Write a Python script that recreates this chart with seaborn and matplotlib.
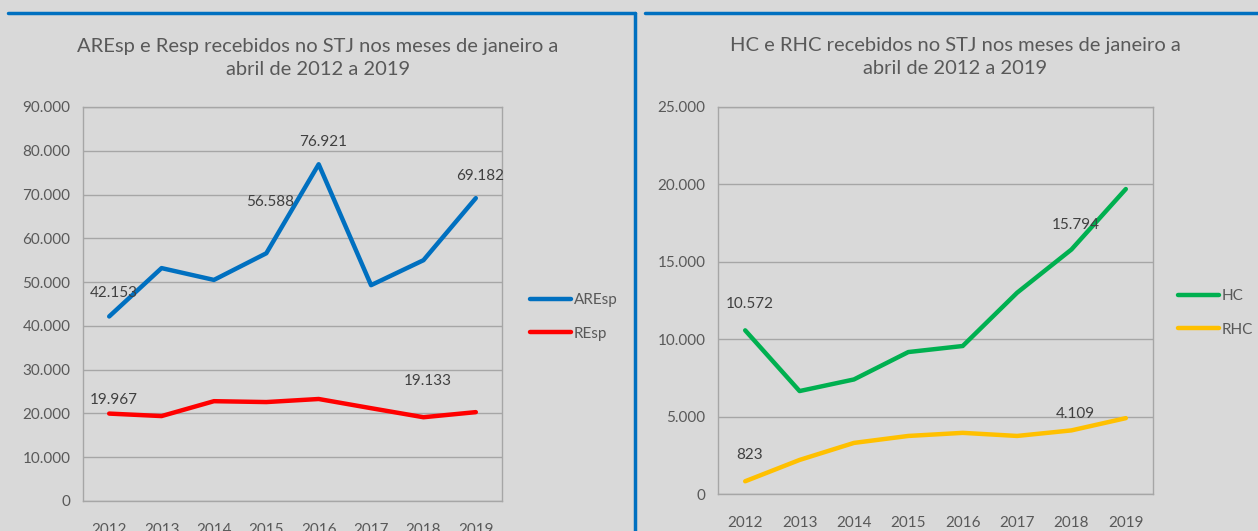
import numpy as np
import pandas as pd
import matplotlib as mpl
import matplotlib.pyplot as plt
import seaborn as sns
from matplotlib.lines import Line2D
from matplotlib.ticker import FuncFormatter

# Dados
anos = ['2012', '2013', '2014', '2015', '2016', '2017', '2018', '2019']
aresp = [42153, 53200, 50500, 56588, 76921, 49300, 55000, 69182]
resp = [19967, 19400, 22800, 22600, 23300, 21200, 19133, 20300]
hc = [10572, 6650, 7400, 9170, 9560, 13000, 15794, 19700]
rhc = [823, 2200, 3300, 3750, 3950, 3750, 4109, 4900]

# Cores
BLUE = '#0070c0'
RED = '#ff0000'
GREEN = '#00b050'
YELLOW = '#ffc000'
BKGROUND = '#d9d9d9'
GRID = '#a6a6a6'
TEXT = '#595959'
LABEL = '#404040'

sns.set_style("white")
plt.rcParams['font.family'] = ['Lato', 'DejaVu Sans']

W, H = 1258, 531
fig = plt.figure(figsize=(W / 100, H / 100), dpi=100)
fig.patch.set_facecolor(BKGROUND)


def px_axes(left, right, top, bottom):
    return fig.add_axes([left / W, (H - bottom) / H, (right - left) / W, (bottom - top) / H])


def fmt_milhar(v, pos=None):
    return f'{int(round(v)):,}'.replace(',', '.')


def painel(ax, series, cores, ymax, step, titulo, titulo_xy, rotulos, leg_xy):
    df = pd.DataFrame({'ano': anos * len(series),
                       'valor': sum([s[1] for s in series], []),
                       'serie': sum([[s[0]] * len(anos) for s in series], [])})
    sns.lineplot(data=df, x='ano', y='valor', hue='serie', palette=cores,
                 linewidth=3.2, ax=ax, legend=True, solid_capstyle='round')
    ax.set_facecolor(BKGROUND)
    ax.set_xlim(-0.5, len(anos) - 0.5)
    ax.set_ylim(0, ymax)
    ax.set_yticks(np.arange(0, ymax + 1, step))
    ax.yaxis.set_major_formatter(FuncFormatter(fmt_milhar))
    ax.grid(axis='y', color=GRID, linewidth=1)
    ax.set_axisbelow(True)
    for s in ax.spines.values():
        s.set_color(GRID)
        s.set_linewidth(1)
    ax.tick_params(axis='both', length=0, labelsize=11, colors=TEXT)
    ax.tick_params(axis='y', pad=9)
    ax.tick_params(axis='x', pad=16)
    ax.set_xlabel('')
    ax.set_ylabel('')
    # rótulos de dados
    for nome, idx, dy in rotulos:
        vals = dict(series)[nome]
        ax.annotate(fmt_milhar(vals[idx]), xy=(idx, vals[idx]), xytext=(3, dy),
                    textcoords='offset points', ha='center', va='center',
                    fontsize=11, color=LABEL)
    fig.text(titulo_xy[0] / W, 1 - titulo_xy[1] / H, titulo, ha='center', va='center',
             fontsize=14.5, color=TEXT, linespacing=1.4)
    leg = ax.legend(loc='center left', bbox_to_anchor=(leg_xy[0] / W, 1 - leg_xy[1] / H),
                    bbox_transform=fig.transFigure, frameon=False, borderpad=0,
                    borderaxespad=0, handlelength=2.7, handletextpad=0.15,
                    labelspacing=1.25, fontsize=11)
    for t in leg.get_texts():
        t.set_color(TEXT)
    for l in leg.get_lines():
        l.set_linewidth(3.2)


ax1 = px_axes(83, 502, 107, 501)
painel(ax1, [('AREsp', aresp), ('REsp', resp)], [BLUE, RED], 90000, 10000,
       'AREsp e Resp recebidos no STJ nos meses de janeiro a\nabril de 2012 a 2019',
       (318, 58),
       [('AREsp', 0, 17), ('AREsp', 3, 37), ('AREsp', 4, 16), ('AREsp', 7, 16),
        ('REsp', 0, 10), ('REsp', 6, 26)],
       (530, 317))

ax2 = px_axes(718, 1153, 107, 494)
painel(ax2, [('HC', hc), ('RHC', rhc)], [GREEN, YELLOW], 25000, 5000,
       'HC e RHC recebidos no STJ nos meses de janeiro a\nabril de 2012 a 2019',
       (955, 57),
       [('HC', 0, 19), ('HC', 6, 18), ('RHC', 0, 19), ('RHC', 6, 12)],
       (1178, 313))

# bordas azuis dos painéis
for xs, ys in [((8, 635), (13, 13)), ((635, 635), (13, 531)), ((645, 1258), (13, 13))]:
    fig.add_artist(Line2D([x / W for x in xs], [1 - y / H for y in ys], color=BLUE,
                          linewidth=2.5, transform=fig.transFigure))

fig.savefig('out.png', dpi=100, facecolor=BKGROUND)
